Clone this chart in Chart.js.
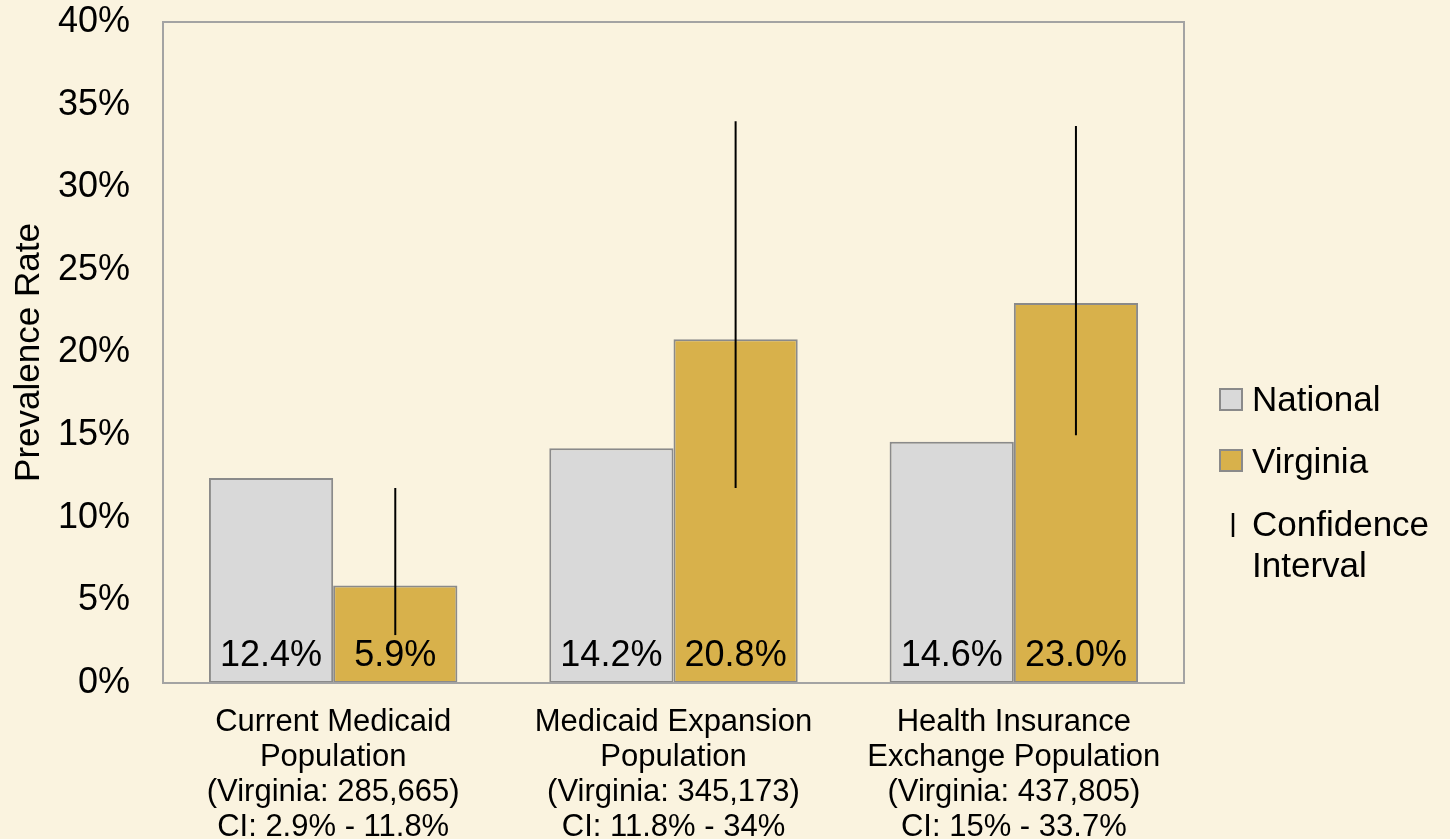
<!DOCTYPE html>
<html>
<head>
<meta charset="utf-8">
<script src="https://cdn.jsdelivr.net/npm/chart.js@4/dist/chart.umd.min.js"></script>
<style>
  html, body { margin: 0; padding: 0; background: #FAF3DF; }
  canvas { display: block; }
</style>
</head>
<body>
<canvas id="c" width="1450" height="839"></canvas>
<script>
const categories = [
  ["Current Medicaid", "Population", "(Virginia: 285,665)", "CI: 2.9% - 11.8%"],
  ["Medicaid Expansion", "Population", "(Virginia: 345,173)", "CI: 11.8% - 34%"],
  ["Health Insurance", "Exchange Population", "(Virginia: 437,805)", "CI: 15% - 33.7%"]
];
const nationalValues = [12.4, 14.2, 14.6];
const virginiaValues = [5.9, 20.8, 23.0];
const ciLow = [2.9, 11.8, 15.0];
const ciHigh = [11.8, 34.0, 33.7];
const yTicks = [0, 5, 10, 15, 20, 25, 30, 35, 40];
const legendLabels = ["National", "Virginia", "Confidence", "Interval"];

const BG = '#FAF3DF';
const GRAY = '#D9D9D9';
const GOLD = '#D8B14B';
const EDGE = '#8A8A8A';
const FONT = '"Liberation Sans", Arial, sans-serif';

const bgPlugin = {
  id: 'bg',
  beforeDraw(chart) {
    const ctx = chart.ctx;
    ctx.save();
    ctx.fillStyle = BG;
    ctx.fillRect(0, 0, chart.width, chart.height);
    ctx.restore();
  }
};

const framePlugin = {
  id: 'frame',
  afterDatasetsDraw(chart) {
    const {ctx, chartArea: a} = chart;
    ctx.save();
    ctx.strokeStyle = '#A3A3A3';
    ctx.lineWidth = 2;
    ctx.strokeRect(a.left, a.top, a.right - a.left, a.bottom - a.top);
    ctx.restore();
  }
};

const labelPlugin = {
  id: 'labels',
  afterDatasetsDraw(chart) {
    const ctx = chart.ctx;
    const y = chart.scales.y;
    ctx.save();
    ctx.fillStyle = '#000';
    ctx.font = '36px ' + FONT;
    ctx.textAlign = 'center';
    ctx.textBaseline = 'middle';
    chart.data.datasets.forEach((ds, di) => {
      const meta = chart.getDatasetMeta(di);
      meta.data.forEach((bar, i) => {
        ctx.fillText(ds.data[i].toFixed(1) + '%', bar.x, chart.chartArea.bottom - 27);
      });
    });
    // confidence intervals on Virginia bars
    const vmeta = chart.getDatasetMeta(1);
    ctx.strokeStyle = '#000';
    ctx.lineWidth = 2;
    vmeta.data.forEach((bar, i) => {
      ctx.beginPath();
      ctx.moveTo(bar.x, y.getPixelForValue(ciLow[i]));
      ctx.lineTo(bar.x, y.getPixelForValue(ciHigh[i]));
      ctx.stroke();
    });
    ctx.restore();
  }
};

const legendPlugin = {
  id: 'customLegend',
  afterDraw(chart) {
    const ctx = chart.ctx;
    const x0 = chart.chartArea.right + 36;
    const tx = x0 + 32;
    ctx.save();
    ctx.font = '35px ' + FONT;
    ctx.textBaseline = 'middle';
    ctx.textAlign = 'left';
    ctx.fillStyle = GRAY; ctx.fillRect(x0, 389, 22, 21);
    ctx.strokeStyle = EDGE; ctx.lineWidth = 2; ctx.strokeRect(x0, 389, 22, 21);
    ctx.fillStyle = GOLD; ctx.fillRect(x0, 450, 22, 21);
    ctx.strokeRect(x0, 450, 22, 21);
    ctx.fillStyle = '#000';
    ctx.fillText(legendLabels[0], tx, 401);
    ctx.fillText(legendLabels[1], tx, 463);
    ctx.fillText(legendLabels[2], tx, 526);
    ctx.fillText(legendLabels[3], tx, 567);
    ctx.strokeStyle = '#000';
    ctx.lineWidth = 2.5;
    ctx.beginPath();
    ctx.moveTo(x0 + 13, 513);
    ctx.lineTo(x0 + 13, 537);
    ctx.stroke();
    ctx.restore();
  }
};

new Chart(document.getElementById('c'), {
  type: 'bar',
  data: {
    labels: categories,
    datasets: [
      { label: 'National', data: nationalValues, backgroundColor: GRAY, borderColor: EDGE, borderWidth: 2, borderSkipped: false },
      { label: 'Virginia', data: virginiaValues, backgroundColor: GOLD, borderColor: EDGE, borderWidth: 2, borderSkipped: false }
    ]
  },
  options: {
    responsive: false,
    animation: false,
    devicePixelRatio: 1,
    layout: { padding: { top: 22, right: 266, left: 0, bottom: 0 } },
    datasets: { bar: { categoryPercentage: 0.73, barPercentage: 1.0 } },
    plugins: {
      legend: { display: false },
      tooltip: { enabled: false }
    },
    scales: {
      x: {
        grid: { display: false, drawTicks: false },
        border: { display: false },
        ticks: {
          color: '#000',
          font: { family: FONT, size: 31, lineHeight: 1.13 },
          padding: 22,
          maxRotation: 0,
          autoSkip: false
        },
        afterFit(s) { s.height = 156; s.paddingLeft = 0; s.paddingRight = 0; }
      },
      y: {
        min: 0,
        max: 40,
        afterBuildTicks(s) { s.ticks = yTicks.map(v => ({ value: v })); },
        grid: { display: false, drawTicks: false },
        border: { display: false },
        ticks: {
          color: '#000',
          font: { family: FONT, size: 36 },
          padding: 33,
          callback: v => v + '%'
        },
        title: {
          display: true,
          text: 'Prevalence Rate',
          color: '#000',
          font: { family: FONT, size: 35 },
          padding: { top: 8, bottom: 0 }
        },
        afterFit(s) { s.width = 163; s.paddingTop = 0; s.paddingBottom = 0; }
      }
    }
  },
  plugins: [bgPlugin, labelPlugin, framePlugin, legendPlugin]
});
</script>
</body>
</html>
